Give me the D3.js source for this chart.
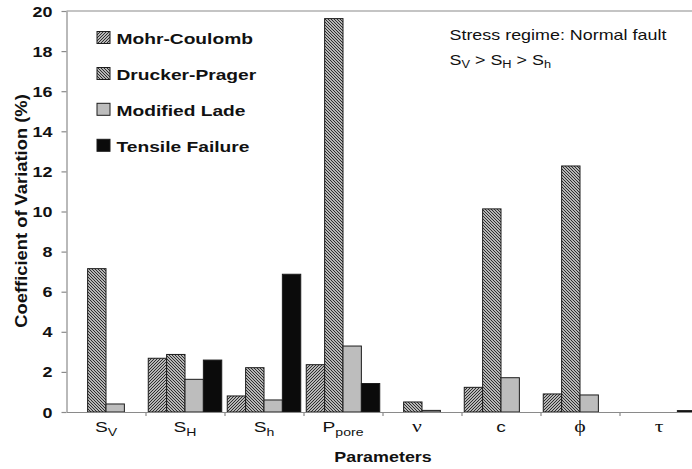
<!DOCTYPE html>
<html>
<head>
<meta charset="utf-8">
<script src="https://cdn.jsdelivr.net/npm/d3@7"></script>
<style>
  html, body { margin: 0; padding: 0; background: #fff; overflow: hidden; }
  svg { display: block; }
</style>
</head>
<body>
<svg id="chart" width="692" height="469"></svg>
<script>
// Parameters on the x axis
const categories = ["SV", "SH", "Sh", "Ppore", "nu", "c", "phi", "tau"];
// Axis text for each parameter: main symbol, optional subscript, serif for Greek
const tickMain = ["S", "S", "S", "P", "\u03BD", "c", "\u03D5", "\u03C4"];
const tickSub  = ["V", "H", "h", "pore", "", "", "", ""];
const tickSerif = [false, false, false, false, true, false, true, true];

// Failure criteria (series)
const seriesNames = ["Mohr-Coulomb", "Drucker-Prager", "Modified Lade", "Tensile Failure"];
const mohrCoulomb    = [0,    2.68, 0.80, 2.36,  0,    1.23,  0.90,  0];
const druckerPrager  = [7.15, 2.87, 2.21, 19.62, 0.50, 10.13, 12.27, 0];
const modifiedLade   = [0.40, 1.63, 0.60, 3.29,  0.08, 1.71,  0.85,  0];
const tensileFailure = [0,    2.59, 6.87, 1.42,  0,    0,     0,     0.07];

const yTicks = [0, 2, 4, 6, 8, 10, 12, 14, 16, 18, 20];

const seriesValues = [mohrCoulomb, druckerPrager, modifiedLade, tensileFailure];

// ---- layout ----
const SX = 1.28;            // horizontal text stretch
const x0 = 66.5, x1 = 698.5; // plot left/right
const yTop = 11, yBottom = 412;
const sans = "'Liberation Sans', Arial, Helvetica, sans-serif";
const serif = "'Liberation Serif', 'Times New Roman', serif";

const svg = d3.select("#chart");

// hatch patterns
const defs = svg.append("defs");
function hatch(id, d) {
  const p = defs.append("pattern").attr("id", id)
    .attr("patternUnits", "userSpaceOnUse").attr("width", 3).attr("height", 3);
  p.append("rect").attr("width", 3).attr("height", 3).attr("fill", "#f4f4f4");
  p.append("path").attr("d", d).attr("stroke", "#262626").attr("stroke-width", 1.15)
    .attr("fill", "none");
}
hatch("hatch-fwd", "M-1,1 L1,-1 M0,3 L3,0 M2,4 L4,2");
hatch("hatch-back", "M-1,2 L1,4 M0,0 L3,3 M2,-1 L4,1");

const fills = ["url(#hatch-fwd)", "url(#hatch-back)", "#bdbdbd", "#0b0b0b"];

// scales
const x = d3.scaleBand().domain(categories).range([x0, x1]).paddingInner(0).paddingOuter(0);
const xInner = d3.scaleBand().domain(d3.range(seriesNames.length))
  .range([0, x.bandwidth()]).paddingInner(0).paddingOuter(0.15);
const xEdge = d3.scaleLinear().domain([0, categories.length]).range([x0, x1]);
const y = d3.scaleLinear().domain([0, 20]).range([yBottom, yTop]);

// top and right border of plot area
svg.append("line").attr("x1", x0).attr("x2", x1).attr("y1", y(20)).attr("y2", y(20))
  .attr("stroke", "#8a8a8a").attr("stroke-width", 1.2);
svg.append("line").attr("x1", x1).attr("x2", x1).attr("y1", y(20)).attr("y2", y(0))
  .attr("stroke", "#8a8a8a").attr("stroke-width", 1.2);

// bars
const barData = [];
categories.forEach((c, ci) => {
  seriesValues.forEach((vals, si) => {
    if (vals[ci] > 0) barData.push({ c, si, v: vals[ci] });
  });
});
svg.append("g").selectAll("rect").data(barData).join("rect")
  .attr("x", d => x(d.c) + xInner(d.si))
  .attr("y", d => y(d.v))
  .attr("width", xInner.bandwidth())
  .attr("height", d => y(0) - y(d.v))
  .attr("fill", d => fills[d.si])
  .attr("stroke", "#1c1c1c")
  .attr("stroke-width", 1);

// y axis
const gy = svg.append("g").attr("transform", `translate(${x0},0)`)
  .call(d3.axisLeft(y).tickValues(yTicks).tickSize(5).tickSizeOuter(0));
gy.select(".domain").attr("stroke", "#8a8a8a").attr("stroke-width", 1.2);
gy.selectAll(".tick line").attr("stroke", "#8a8a8a").attr("stroke-width", 1.2);
gy.selectAll(".tick text")
  .attr("x", -14 / SX).attr("dy", "0.36em")
  .attr("transform", `scale(${SX},1)`)
  .attr("font-family", sans).attr("font-size", 14).attr("font-weight", "bold")
  .attr("fill", "#111");

// x axis: boundary ticks between categories
const gx = svg.append("g").attr("transform", `translate(0,${yBottom})`)
  .call(d3.axisBottom(xEdge).tickValues(d3.range(1, categories.length))
    .tickSize(4).tickSizeOuter(0).tickFormat(""));
gx.select(".domain").attr("stroke", "#8a8a8a").attr("stroke-width", 1.2);
gx.selectAll(".tick line").attr("stroke", "#8a8a8a").attr("stroke-width", 1.2);

// x axis: category labels
const gl = svg.append("g").attr("transform", `translate(0,${yBottom})`)
  .call(d3.axisBottom(x).tickSize(0).tickFormat(""));
gl.select(".domain").remove();
gl.selectAll(".tick").each(function (c) {
  const i = categories.indexOf(c);
  const t = d3.select(this).append("text")
    .attr("transform", `translate(${i === 4 ? -5 : 0},20) scale(${SX},1)`)
    .attr("text-anchor", "middle")
    .attr("fill", "#111")
    .attr("font-family", tickSerif[i] ? serif : sans)
    .attr("font-size", tickSerif[i] ? 17 : 15);
  t.append("tspan").text(tickMain[i]);
  if (tickSub[i]) {
    t.append("tspan").attr("dy", 4).attr("font-size", 11).text(tickSub[i]);
  }
});

// legend
const legendTop = [31.5, 67.5, 103.3, 139.3];
const lg = svg.append("g");
seriesNames.forEach((name, i) => {
  lg.append("rect").attr("x", 97).attr("y", legendTop[i])
    .attr("width", 13).attr("height", 12)
    .attr("fill", fills[i]).attr("stroke", "#1c1c1c").attr("stroke-width", 1);
  lg.append("text")
    .attr("transform", `translate(116.5,${legendTop[i] + 12.6}) scale(${SX},1)`)
    .attr("font-family", sans).attr("font-size", 15).attr("font-weight", "bold")
    .attr("fill", "#111").text(name);
});

// stress regime annotation
svg.append("text")
  .attr("transform", `translate(449.5,39.5) scale(${SX},1)`)
  .attr("font-family", sans).attr("font-size", 14).attr("fill", "#111")
  .text("Stress regime: Normal fault");
const rel = svg.append("text")
  .attr("transform", `translate(449.5,65) scale(${SX},1)`)
  .attr("font-family", sans).attr("font-size", 14).attr("fill", "#111");
[["S", "V"], ["S", "H"], ["S", "h"]].forEach((p, i) => {
  rel.append("tspan").attr("dy", i === 0 ? 0 : -3).text((i > 0 ? " > " : "") + p[0]);
  rel.append("tspan").attr("dy", 3).attr("font-size", 10).text(p[1]);
});

// axis titles
svg.append("text")
  .attr("transform", `translate(383,461.5) scale(${SX},1)`)
  .attr("text-anchor", "middle")
  .attr("font-family", sans).attr("font-size", 14).attr("font-weight", "bold")
  .attr("fill", "#111").text("Parameters");
svg.append("text")
  .attr("transform", `translate(26.5,211) rotate(-90) scale(1.08,1)`)
  .attr("text-anchor", "middle")
  .attr("font-family", sans).attr("font-size", 17).attr("font-weight", "bold")
  .attr("fill", "#111").text("Coefficient of Variation (%)");
</script>
</body>
</html>
